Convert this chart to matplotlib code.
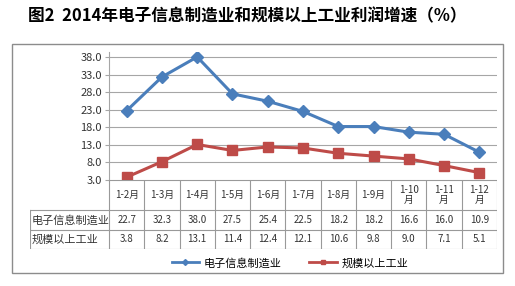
import matplotlib
matplotlib.use('Agg')
import matplotlib.pyplot as plt
from matplotlib.lines import Line2D
from matplotlib.patches import Rectangle

plt.rcParams['font.family'] = ['Noto Sans CJK SC', 'DejaVu Sans']

title = '图2  2014年电子信息制造业和规模以上工业利润增速（%）'
months = ['1-2月', '1-3月', '1-4月', '1-5月', '1-6月', '1-7月', '1-8月', '1-9月',
          '1-10\n月', '1-11\n月', '1-12\n月']
electronics = [22.7, 32.3, 38.0, 27.5, 25.4, 22.5, 18.2, 18.2, 16.6, 16.0, 10.9]
industry = [3.8, 8.2, 13.1, 11.4, 12.4, 12.1, 10.6, 9.8, 9.0, 7.1, 5.1]
names = ['电子信息制造业', '规模以上工业']
yticks = [3, 8, 13, 18, 23, 28, 33, 38]

blue = '#4A7EBB'
red = '#BE4B48'
grid = '#A6A6A6'

W, H = 515, 286
fig = plt.figure(figsize=(W / 100, H / 100), dpi=100)


def box(x0, y0, x1, y1):
    # pixel box (top-left origin) -> figure fraction
    return [x0 / W, 1 - y1 / H, (x1 - x0) / W, (y1 - y0) / H]


# outer frame
fig.patches.append(Rectangle((12 / W, 1 - 273 / H), 491 / W, 229 / H,
                             transform=fig.transFigure, fill=False,
                             edgecolor='#8C8C8C', linewidth=1))

fig.text(28 / W, 1 - 16 / H, title, fontsize=12, fontweight='bold',
         va='center', ha='left')

# main plot
ax = fig.add_axes(box(109, 52, 497, 180))
x = list(range(len(months)))
ax.plot(x, electronics, color=blue, linewidth=2.2, marker='D', markersize=6.5,
        label=names[0])
ax.plot(x, industry, color=red, linewidth=2.2, marker='s', markersize=7.5,
        label=names[1])
ax.set_xlim(-0.5, len(months) - 0.5)
ax.set_ylim(3, 39.4)
ax.set_yticks(yticks)
ax.set_yticklabels(['%.1f' % v for v in yticks], fontsize=8, color='#333333')
ax.set_xticks([])
ax.yaxis.grid(True, color=grid, linewidth=0.8)
ax.set_axisbelow(True)
for s in ['top', 'right', 'bottom']:
    ax.spines[s].set_visible(False)
ax.spines['left'].set_color(grid)
ax.tick_params(axis='y', length=3, color=grid, pad=2)

# data table below the plot
tx = fig.add_axes(box(30, 180, 497, 249))
cell = (497 - 109) / len(months)
left = 109 - 30
tx.set_xlim(0, 497 - 30)
tx.set_ylim(249, 180)
tx.axis('off')
lc = '#999999'
rows = [180, 210, 230, 249]
tx.plot([left, 467], [180, 180], color=lc, lw=0.8)
for r in rows[1:]:
    tx.plot([0, 467], [r, r], color=lc, lw=0.8)
tx.plot([0, 0], [210, 249], color=lc, lw=0.8)
for i in range(len(months) + 1):
    xv = left + i * cell
    tx.plot([xv, xv], [180, 249], color=lc, lw=0.8)
for i, m in enumerate(months):
    cx = left + (i + 0.5) * cell
    tx.text(cx, 195, m, ha='center', va='center', fontsize=7, color='#333333',
            linespacing=1.1)
    tx.text(cx, 220, '%.1f' % electronics[i], ha='center', va='center',
            fontsize=7, color='#333333')
    tx.text(cx, 239.5, '%.1f' % industry[i], ha='center', va='center',
            fontsize=7, color='#333333')
tx.text(2, 220, names[0], ha='left', va='center', fontsize=8, color='#333333')
tx.text(2, 239.5, names[1], ha='left', va='center', fontsize=8, color='#333333')

handles = [Line2D([], [], color=blue, lw=2, marker='D', markersize=3),
           Line2D([], [], color=red, lw=2, marker='s', markersize=3)]
fig.legend(handles, names, loc='center', ncol=2, frameon=False, fontsize=8,
           bbox_to_anchor=(290 / W, 1 - 263 / H), handlelength=2.5,
           columnspacing=2.5, handletextpad=0.4)

fig.savefig('out.png', dpi=100)
